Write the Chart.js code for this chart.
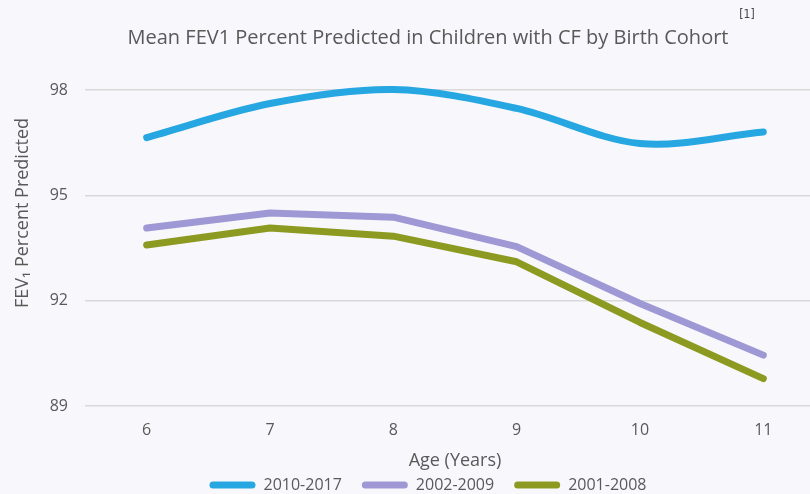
<!DOCTYPE html>
<html><head><meta charset="utf-8">
<script src="https://cdn.jsdelivr.net/npm/chart.js@4/dist/chart.umd.min.js"></script>
<style>
html,body{margin:0;padding:0;background:#F8F8FC;overflow:hidden;width:810px;height:494px}
#wrap{width:856px;height:503px;position:relative}
canvas{display:block}
</style></head><body>
<div id="wrap"><canvas id="c" width="856" height="503"></canvas></div>
<script>
// ---- data ----
const ages = ['6', '7', '8', '9', '10', '11'];
const cohort2010_2017 = [96.65, 97.62, 98.02, 97.48, 96.48, 96.81];
const cohort2002_2009 = [94.07, 94.50, 94.38, 93.54, 91.92, 90.45];
const cohort2001_2008 = [93.59, 94.07, 93.84, 93.11, 91.38, 89.78];
const seriesNames = ['2010-2017', '2002-2009', '2001-2008'];
const yTickValues = [89, 92, 95, 98];
const chartTitle = 'Mean FEV1 Percent Predicted in Children with CF by Birth Cohort';
const footnote = '[1]';
const xTitle = 'Age (Years)';
const yTitle = 'FEV\u2081 Percent Predicted';

const TXT = '#595959';
const FONT = '"Open Sans", sans-serif';

const titlePlugin = {
  id: 'topTitle',
  afterDraw(chart) {
    const ctx = chart.ctx;
    ctx.save();
    ctx.fillStyle = TXT;
    ctx.textAlign = 'center';
    ctx.textBaseline = 'middle';
    ctx.font = '20px ' + FONT;
    ctx.fillText(chartTitle, 428, 38);
    ctx.fillStyle = '#444444';
    ctx.font = '12px "Liberation Sans Narrow", "DejaVu Sans Condensed", sans-serif';
    ctx.fillText(footnote, 747, 15);
    ctx.restore();
  }
};

new Chart(document.getElementById('c'), {
  type: 'line',
  data: {
    labels: ages,
    datasets: [
      { label: seriesNames[0], data: cohort2010_2017, borderColor: '#27A7E2', tension: 0.33 },
      { label: seriesNames[1], data: cohort2002_2009, borderColor: '#9E99D4', tension: 0 },
      { label: seriesNames[2], data: cohort2001_2008, borderColor: '#8D9A22', tension: 0 }
    ].map(d => Object.assign(d, {
      borderWidth: 7, pointRadius: 0, borderCapStyle: 'round', borderJoinStyle: 'round',
      fill: false, clip: false
    }))
  },
  options: {
    responsive: false,
    animation: false,
    devicePixelRatio: 1,
    layout: { padding: { top: 20, left: 0, right: 0, bottom: 0 } },
    plugins: {
      title: { display: false },
      tooltip: { enabled: false },
      legend: {
        position: 'bottom',
        labels: {
          boxWidth: 46, boxHeight: 7, padding: 20,
          color: TXT, font: { family: FONT, size: 16 },
          generateLabels(chart) {
            return chart.data.datasets.map((ds, i) => ({
              text: ds.label, fillStyle: ds.borderColor, strokeStyle: ds.borderColor,
              lineWidth: 0, hidden: false, datasetIndex: i, borderRadius: 3.5, fontColor: TXT
            }));
          }
        }
      }
    },
    scales: {
      x: {
        type: 'category',
        offset: true,
        grid: { display: false },
        border: { display: false },
        ticks: { color: TXT, font: { family: FONT, size: 16 }, padding: 7 },
        title: { display: true, text: xTitle, color: TXT, font: { family: FONT, size: 18 }, padding: { top: 0, bottom: -14.8 } },
        afterFit(s) { s.height = 51; }
      },
      y: {
        type: 'linear',
        position: 'left',
        min: 89, max: 100,
        afterBuildTicks(s) { s.ticks = yTickValues.map(v => ({ value: v })); },
        grid: { color: '#D9D9D9', lineWidth: 1.5, drawTicks: false },
        border: { display: false },
        ticks: { color: TXT, font: { family: FONT, size: 16 }, padding: 17 },
        title: { display: true, text: yTitle, color: TXT, font: { family: FONT, size: 18 }, padding: { top: 12, bottom: 0 } },
        afterFit(s) { s.width = 85; s.paddingTop = 0; s.paddingBottom = 0; }
      },
      y2: {
        type: 'linear',
        position: 'right',
        display: true,
        grid: { display: false },
        border: { display: false },
        ticks: { display: false },
        afterFit(s) { s.width = 31; s.paddingTop = 0; s.paddingBottom = 0; }
      }
    }
  },
  plugins: [titlePlugin]
});
</script>
</body></html>
